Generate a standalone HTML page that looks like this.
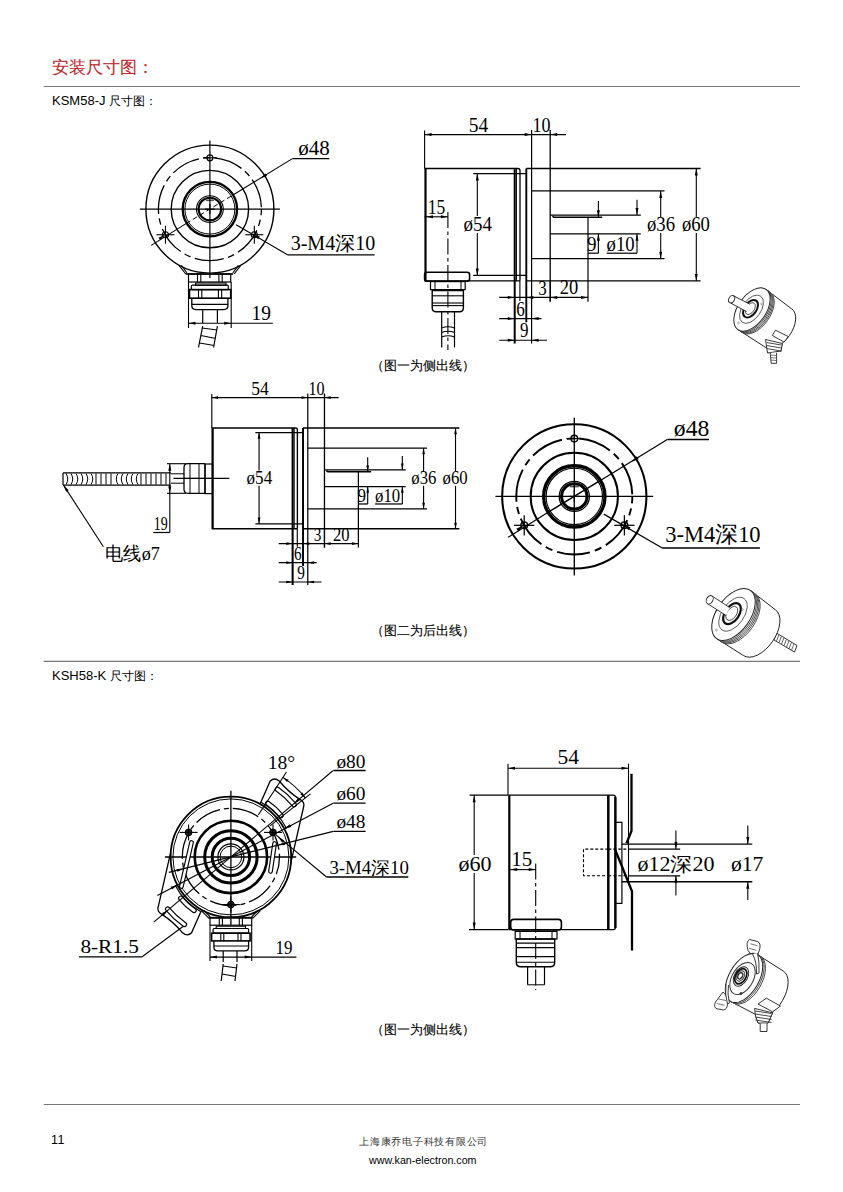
<!DOCTYPE html>
<html><head><meta charset="utf-8">
<style>
html,body{margin:0;padding:0;background:#fff;}
body{width:843px;height:1192px;position:relative;overflow:hidden;}
.t{position:absolute;white-space:nowrap;line-height:1;}
.sans{font-family:"Liberation Sans",sans-serif;}
.serif{font-family:"Liberation Serif",serif;}
svg{position:absolute;left:0;top:0;}
</style></head><body>
<div class="t serif" style="left:52px;top:58.5px;font-size:17px;color:#c0272d;-webkit-text-stroke:0.1px #c0272d;">安装尺寸图：</div>
<div class="t sans" style="left:52px;top:94px;font-size:13px;color:#000;">KSM58-J <span style="font-size:11.8px">尺寸图：</span></div>
<div class="t sans" style="left:371px;top:359px;font-size:13px;color:#000;-webkit-text-stroke:0.12px #000;">（图一为侧出线）</div>
<div class="t sans" style="left:371px;top:624px;font-size:13px;color:#000;-webkit-text-stroke:0.12px #000;">（图二为后出线）</div>
<div class="t sans" style="left:52px;top:669px;font-size:13px;color:#000;">KSH58-K <span style="font-size:11.8px">尺寸图：</span></div>
<div class="t sans" style="left:371px;top:1023px;font-size:13px;color:#000;-webkit-text-stroke:0.12px #000;">（图一为侧出线）</div>
<div class="t sans" style="left:51px;top:1134px;font-size:12.5px;color:#000;letter-spacing:0.5px;">11</div>
<div class="t serif" style="left:359px;top:1136.5px;font-size:10.45px;color:#333;letter-spacing:0.75px;">上海康乔电子科技有限公司</div>
<div class="t sans" style="left:369px;top:1155px;font-size:10.7px;color:#000;">www.kan-electron.com</div>
<svg width="843" height="1192" viewBox="0 0 843 1192">
<g stroke="#777" stroke-width="1.2">
<line x1="43.7" y1="86.5" x2="800" y2="86.5"/>
<line x1="43.7" y1="661.3" x2="800" y2="661.3"/>
<line x1="43.7" y1="1104.5" x2="800" y2="1104.5"/>
</g>
<circle cx="209.90" cy="209.10" r="64.00" stroke="#000" stroke-width="1.40" fill="none"/>
<circle cx="209.90" cy="209.10" r="51.50" stroke="#000" stroke-width="1.3" fill="none" stroke-dasharray="29.5 4.5 6.5 4.5" stroke-dashoffset="23.3"/>
<circle cx="209.90" cy="209.10" r="38.70" stroke="#000" stroke-width="1.40" fill="none"/>
<circle cx="209.90" cy="209.10" r="27.20" stroke="#000" stroke-width="2.30" fill="none"/>
<circle cx="209.90" cy="209.10" r="25.00" stroke="#000" stroke-width="1.00" fill="none"/>
<circle cx="209.90" cy="209.10" r="13.40" stroke="#000" stroke-width="1.10" fill="none"/>
<circle cx="209.90" cy="209.10" r="11.30" stroke="#000" stroke-width="2.10" fill="none"/>
<line x1="205.90" y1="200.30" x2="213.90" y2="200.30" stroke="#555" stroke-width="1.60"/>
<line x1="204.90" y1="209.10" x2="214.90" y2="209.10" stroke="#000" stroke-width="1.10"/>
<line x1="209.90" y1="204.10" x2="209.90" y2="214.10" stroke="#000" stroke-width="1.10"/>
<line x1="139.90" y1="209.10" x2="279.90" y2="209.10" stroke="#000" stroke-width="1.20"/>
<circle cx="209.90" cy="157.80" r="3.00" stroke="#000" stroke-width="1.20" fill="none"/>
<line x1="202.90" y1="157.80" x2="216.90" y2="157.80" stroke="#000" stroke-width="1.10"/>
<circle cx="165.47" cy="234.75" r="3.00" stroke="#000" stroke-width="1.20" fill="none"/>
<line x1="156.47" y1="234.75" x2="174.47" y2="234.75" stroke="#000" stroke-width="1.10"/>
<line x1="165.47" y1="225.75" x2="165.47" y2="243.75" stroke="#000" stroke-width="1.10"/>
<circle cx="254.33" cy="234.75" r="3.00" stroke="#000" stroke-width="1.20" fill="none"/>
<line x1="245.33" y1="234.75" x2="263.33" y2="234.75" stroke="#000" stroke-width="1.10"/>
<line x1="254.33" y1="225.75" x2="254.33" y2="243.75" stroke="#000" stroke-width="1.10"/>
<line x1="151.20" y1="245.40" x2="186.00" y2="223.60" stroke="#000" stroke-width="1.10"/>
<line x1="186.00" y1="223.60" x2="233.80" y2="194.50" stroke="#000" stroke-width="1.00" stroke-dasharray="5 3"/>
<line x1="233.80" y1="194.50" x2="292.40" y2="158.60" stroke="#000" stroke-width="1.10"/>
<line x1="292.40" y1="158.60" x2="329.40" y2="158.60" stroke="#000" stroke-width="1.40"/>
<polygon points="164.90,234.70 160.31,240.19 158.46,237.83" fill="#000"/>
<polygon points="260.30,178.50 265.46,173.54 267.04,176.09" fill="#000"/>
<text x="298.20" y="155.20" font-family="Liberation Serif" font-size="20" fill="#000" textLength="31.5" lengthAdjust="spacingAndGlyphs" >ø48</text>
<line x1="236.10" y1="224.80" x2="287.90" y2="254.90" stroke="#000" stroke-width="1.10"/>
<line x1="287.90" y1="254.90" x2="374.60" y2="254.90" stroke="#000" stroke-width="1.40"/>
<polygon points="253.00,234.30 259.79,236.57 258.27,239.15" fill="#000"/>
<text x="290.70" y="249.90" font-family="Liberation Serif" font-size="20" fill="#000" textLength="84.5" lengthAdjust="spacingAndGlyphs" >3-M4深10</text>
<line x1="209.90" y1="140.50" x2="209.90" y2="278.00" stroke="#000" stroke-width="1.20"/>
<path d="M179,265.4 L185.7,274 M181.4,265.4 L187,273 M240.8,265.4 L234.1,274 M238.4,265.4 L232.8,273" stroke="#000" stroke-width="1.10" fill="none" />
<line x1="185.70" y1="274.00" x2="233.10" y2="274.00" stroke="#333" stroke-width="2.00"/>
<rect x="188.50" y="274.00" width="42.20" height="8.00" rx="0" stroke="#000" stroke-width="1.20" fill="none"/>
<line x1="197.50" y1="274.00" x2="197.50" y2="282.00" stroke="#000" stroke-width="1.10"/>
<line x1="200.80" y1="274.00" x2="200.80" y2="282.00" stroke="#000" stroke-width="1.10"/>
<line x1="218.90" y1="274.00" x2="218.90" y2="282.00" stroke="#000" stroke-width="1.10"/>
<line x1="222.20" y1="274.00" x2="222.20" y2="282.00" stroke="#000" stroke-width="1.10"/>
<line x1="188.50" y1="282.00" x2="188.50" y2="328.00" stroke="#000" stroke-width="1.10"/>
<line x1="231.20" y1="282.00" x2="231.20" y2="328.00" stroke="#000" stroke-width="1.10"/>
<rect x="195.60" y="283.00" width="30.40" height="2.20" rx="0" stroke="#000" stroke-width="1.10" fill="none"/>
<rect x="191.30" y="285.20" width="37.00" height="4.40" rx="1" stroke="#000" stroke-width="1.20" fill="none"/>
<rect x="189.50" y="289.60" width="41.20" height="8.60" rx="0" stroke="#000" stroke-width="1.60" fill="none"/>
<line x1="198.50" y1="289.60" x2="198.50" y2="298.20" stroke="#000" stroke-width="1.10"/>
<line x1="201.80" y1="289.60" x2="201.80" y2="298.20" stroke="#000" stroke-width="1.10"/>
<line x1="218.40" y1="289.60" x2="218.40" y2="298.20" stroke="#000" stroke-width="1.10"/>
<line x1="221.70" y1="289.60" x2="221.70" y2="298.20" stroke="#000" stroke-width="1.10"/>
<path d="M191.8,298.2 L191.8,305.6 Q191.8,309.6 195.8,309.6 L223.9,309.6 Q227.9,309.6 227.9,305.6 L227.9,298.2" stroke="#000" stroke-width="1.30" fill="none" />
<line x1="191.80" y1="304.30" x2="227.90" y2="304.30" stroke="#000" stroke-width="1.20"/>
<line x1="202.70" y1="309.60" x2="202.70" y2="323.30" stroke="#000" stroke-width="1.20"/>
<line x1="217.40" y1="309.60" x2="217.40" y2="323.30" stroke="#000" stroke-width="1.20"/>
<path d="M202.7,326.2 L198.5,347.5 M217.4,326.2 L213.6,347.5 M202.3,328 L217,330 M201,335.5 L215.8,338.5 M199.6,343 L214.3,345.5" stroke="#000" stroke-width="1.20" fill="none" />
<line x1="188.00" y1="323.30" x2="272.80" y2="323.30" stroke="#000" stroke-width="1.10"/>
<polygon points="188.50,323.30 195.50,321.80 195.50,324.80" fill="#000"/>
<polygon points="231.20,323.30 224.20,324.80 224.20,321.80" fill="#000"/>
<text x="251.40" y="320.00" font-family="Liberation Serif" font-size="20" fill="#000" textLength="19.5" lengthAdjust="spacingAndGlyphs" >19</text>
<g transform="translate(574.3,496.4) scale(1.127) translate(-209.9,-209.1)">
<circle cx="209.90" cy="209.10" r="64.00" stroke="#000" stroke-width="1.82" fill="none"/>
<circle cx="209.90" cy="209.10" r="51.50" stroke="#000" stroke-width="1.6900000000000002" fill="none" stroke-dasharray="29.5 4.5 6.5 4.5" stroke-dashoffset="23.3"/>
<circle cx="209.90" cy="209.10" r="38.70" stroke="#000" stroke-width="1.82" fill="none"/>
<circle cx="209.90" cy="209.10" r="27.20" stroke="#000" stroke-width="2.99" fill="none"/>
<circle cx="209.90" cy="209.10" r="25.00" stroke="#000" stroke-width="1.00" fill="none"/>
<circle cx="209.90" cy="209.10" r="13.40" stroke="#000" stroke-width="1.10" fill="none"/>
<circle cx="209.90" cy="209.10" r="11.30" stroke="#000" stroke-width="2.73" fill="none"/>
<line x1="205.90" y1="200.30" x2="213.90" y2="200.30" stroke="#555" stroke-width="1.60"/>
<line x1="204.90" y1="209.10" x2="214.90" y2="209.10" stroke="#000" stroke-width="1.10"/>
<line x1="209.90" y1="204.10" x2="209.90" y2="214.10" stroke="#000" stroke-width="1.10"/>
<line x1="139.90" y1="209.10" x2="279.90" y2="209.10" stroke="#000" stroke-width="1.20"/>
<circle cx="209.90" cy="157.80" r="3.00" stroke="#000" stroke-width="1.20" fill="none"/>
<line x1="202.90" y1="157.80" x2="216.90" y2="157.80" stroke="#000" stroke-width="1.10"/>
<circle cx="165.47" cy="234.75" r="3.00" stroke="#000" stroke-width="1.20" fill="none"/>
<line x1="156.47" y1="234.75" x2="174.47" y2="234.75" stroke="#000" stroke-width="1.10"/>
<line x1="165.47" y1="225.75" x2="165.47" y2="243.75" stroke="#000" stroke-width="1.10"/>
<circle cx="254.33" cy="234.75" r="3.00" stroke="#000" stroke-width="1.20" fill="none"/>
<line x1="245.33" y1="234.75" x2="263.33" y2="234.75" stroke="#000" stroke-width="1.10"/>
<line x1="254.33" y1="225.75" x2="254.33" y2="243.75" stroke="#000" stroke-width="1.10"/>
<line x1="151.20" y1="245.40" x2="186.00" y2="223.60" stroke="#000" stroke-width="1.10"/>
<line x1="186.00" y1="223.60" x2="233.80" y2="194.50" stroke="#000" stroke-width="1.30"/>
<line x1="233.80" y1="194.50" x2="292.40" y2="158.60" stroke="#000" stroke-width="1.10"/>
<line x1="292.40" y1="158.60" x2="329.40" y2="158.60" stroke="#000" stroke-width="1.40"/>
<polygon points="164.90,234.70 160.31,240.19 158.46,237.83" fill="#000"/>
<polygon points="260.30,178.50 265.46,173.54 267.04,176.09" fill="#000"/>
<text x="298.20" y="155.20" font-family="Liberation Serif" font-size="20" fill="#000" textLength="31.5" lengthAdjust="spacingAndGlyphs" >ø48</text>
<line x1="236.10" y1="224.80" x2="287.90" y2="254.90" stroke="#000" stroke-width="1.10"/>
<line x1="287.90" y1="254.90" x2="374.60" y2="254.90" stroke="#000" stroke-width="1.40"/>
<polygon points="253.00,234.30 259.79,236.57 258.27,239.15" fill="#000"/>
<text x="290.70" y="249.90" font-family="Liberation Serif" font-size="20" fill="#000" textLength="84.5" lengthAdjust="spacingAndGlyphs" >3-M4深10</text>
<line x1="209.90" y1="139.30" x2="209.90" y2="279.20" stroke="#000" stroke-width="1.20"/>
</g>
<path d="M424.6,168.5 L518,168.5 Q520,168.5 520,170.5 L520,280.8 M424.6,280.8 L520,280.8" stroke="#000" stroke-width="1.30" fill="none" />
<line x1="514.70" y1="168.50" x2="514.70" y2="343.50" stroke="#000" stroke-width="2.00"/>
<line x1="516.40" y1="168.50" x2="516.40" y2="281.00" stroke="#000" stroke-width="1.10"/>
<line x1="526.30" y1="168.50" x2="526.30" y2="322.30" stroke="#000" stroke-width="1.90"/>
<line x1="531.60" y1="130.00" x2="531.60" y2="343.50" stroke="#000" stroke-width="1.20"/>
<line x1="526.30" y1="168.50" x2="700.60" y2="168.50" stroke="#000" stroke-width="1.30"/>
<line x1="526.30" y1="280.80" x2="700.60" y2="280.80" stroke="#000" stroke-width="1.30"/>
<line x1="473.20" y1="173.60" x2="526.30" y2="173.60" stroke="#000" stroke-width="1.20"/>
<line x1="473.20" y1="275.40" x2="526.30" y2="275.40" stroke="#000" stroke-width="1.20"/>
<line x1="477.30" y1="173.60" x2="477.30" y2="216.00" stroke="#000" stroke-width="1.10"/>
<line x1="477.30" y1="233.00" x2="477.30" y2="275.40" stroke="#000" stroke-width="1.10"/>
<polygon points="477.30,173.60 478.80,180.60 475.80,180.60" fill="#000"/>
<polygon points="477.30,275.40 475.80,268.40 478.80,268.40" fill="#000"/>
<text x="463.40" y="231.00" font-family="Liberation Serif" font-size="20" fill="#000" textLength="28.5" lengthAdjust="spacingAndGlyphs" >ø54</text>
<line x1="531.60" y1="190.90" x2="664.50" y2="190.90" stroke="#000" stroke-width="1.30"/>
<line x1="531.60" y1="258.70" x2="664.50" y2="258.70" stroke="#000" stroke-width="1.30"/>
<line x1="550.20" y1="130.00" x2="550.20" y2="301.80" stroke="#000" stroke-width="1.30"/>
<line x1="550.20" y1="215.10" x2="640.80" y2="215.10" stroke="#000" stroke-width="1.20"/>
<line x1="550.20" y1="233.80" x2="640.80" y2="233.80" stroke="#000" stroke-width="1.30"/>
<path d="M552.4,216.2 L554,217.3 L602.2,217.3" stroke="#000" stroke-width="1.60" fill="none" />
<line x1="588.00" y1="217.30" x2="588.00" y2="301.80" stroke="#000" stroke-width="1.20"/>
<line x1="696.30" y1="168.50" x2="696.30" y2="217.00" stroke="#000" stroke-width="1.10"/>
<line x1="696.30" y1="233.00" x2="696.30" y2="281.00" stroke="#000" stroke-width="1.10"/>
<polygon points="696.30,168.50 697.80,175.50 694.80,175.50" fill="#000"/>
<polygon points="696.30,281.00 694.80,274.00 697.80,274.00" fill="#000"/>
<text x="681.90" y="230.80" font-family="Liberation Serif" font-size="20" fill="#000" textLength="28.0" lengthAdjust="spacingAndGlyphs" >ø60</text>
<line x1="660.70" y1="190.90" x2="660.70" y2="217.00" stroke="#000" stroke-width="1.10"/>
<line x1="660.70" y1="233.00" x2="660.70" y2="258.70" stroke="#000" stroke-width="1.10"/>
<polygon points="660.70,190.90 662.20,197.90 659.20,197.90" fill="#000"/>
<polygon points="660.70,258.70 659.20,251.70 662.20,251.70" fill="#000"/>
<text x="647.00" y="230.80" font-family="Liberation Serif" font-size="20" fill="#000" textLength="28.0" lengthAdjust="spacingAndGlyphs" >ø36</text>
<line x1="637.00" y1="199.70" x2="637.00" y2="215.10" stroke="#000" stroke-width="1.10"/>
<polygon points="637.00,215.10 635.50,208.10 638.50,208.10" fill="#000"/>
<line x1="637.00" y1="233.80" x2="637.00" y2="253.20" stroke="#000" stroke-width="1.10"/>
<polygon points="637.00,233.80 638.50,240.80 635.50,240.80" fill="#000"/>
<line x1="606.70" y1="253.20" x2="637.00" y2="253.20" stroke="#000" stroke-width="1.20"/>
<text x="606.60" y="250.80" font-family="Liberation Serif" font-size="20" fill="#000" textLength="28.0" lengthAdjust="spacingAndGlyphs" >ø10</text>
<line x1="598.40" y1="201.00" x2="598.40" y2="217.30" stroke="#000" stroke-width="1.10"/>
<polygon points="598.40,217.30 596.90,210.30 599.90,210.30" fill="#000"/>
<line x1="598.40" y1="233.80" x2="598.40" y2="253.20" stroke="#000" stroke-width="1.10"/>
<polygon points="598.40,233.80 599.90,240.80 596.90,240.80" fill="#000"/>
<line x1="588.00" y1="253.20" x2="598.40" y2="253.20" stroke="#000" stroke-width="1.20"/>
<text x="587.00" y="250.80" font-family="Liberation Serif" font-size="20" fill="#000" textLength="9.5" lengthAdjust="spacingAndGlyphs" >9</text>
<line x1="424.60" y1="130.50" x2="424.60" y2="168.50" stroke="#000" stroke-width="1.10"/>
<line x1="424.60" y1="134.60" x2="566.00" y2="134.60" stroke="#000" stroke-width="1.10"/>
<polygon points="424.60,134.60 431.60,133.10 431.60,136.10" fill="#000"/>
<polygon points="531.60,134.60 524.60,136.10 524.60,133.10" fill="#000"/>
<polygon points="550.20,134.60 557.20,133.10 557.20,136.10" fill="#000"/>
<text x="468.70" y="131.70" font-family="Liberation Serif" font-size="20" fill="#000" textLength="19.5" lengthAdjust="spacingAndGlyphs" >54</text>
<text x="532.40" y="132.00" font-family="Liberation Serif" font-size="20" fill="#000" textLength="18.0" lengthAdjust="spacingAndGlyphs" >10</text>
<line x1="519.90" y1="281.00" x2="519.90" y2="301.00" stroke="#000" stroke-width="1.10"/>
<line x1="550.20" y1="281.00" x2="550.20" y2="301.60" stroke="#000" stroke-width="1.10"/>
<line x1="499.20" y1="297.40" x2="588.00" y2="297.40" stroke="#000" stroke-width="1.10"/>
<polygon points="514.70,297.40 507.70,298.90 507.70,295.90" fill="#000"/>
<polygon points="526.30,297.40 533.30,295.90 533.30,298.90" fill="#000"/>
<polygon points="550.20,297.40 557.20,295.90 557.20,298.90" fill="#000"/>
<polygon points="588.00,297.40 581.00,298.90 581.00,295.90" fill="#000"/>
<text x="538.20" y="294.90" font-family="Liberation Serif" font-size="20" fill="#000" textLength="8.5" lengthAdjust="spacingAndGlyphs" >3</text>
<text x="559.80" y="294.40" font-family="Liberation Serif" font-size="20" fill="#000" textLength="18.5" lengthAdjust="spacingAndGlyphs" >20</text>
<line x1="499.20" y1="318.60" x2="541.50" y2="318.60" stroke="#000" stroke-width="1.10"/>
<polygon points="514.70,318.60 507.70,320.10 507.70,317.10" fill="#000"/>
<polygon points="531.60,318.60 538.60,317.10 538.60,320.10" fill="#000"/>
<text x="516.20" y="315.70" font-family="Liberation Serif" font-size="20" fill="#000" textLength="8.5" lengthAdjust="spacingAndGlyphs" >6</text>
<line x1="499.20" y1="340.20" x2="546.90" y2="340.20" stroke="#000" stroke-width="1.10"/>
<polygon points="514.70,340.20 507.70,341.70 507.70,338.70" fill="#000"/>
<polygon points="531.60,340.20 538.60,338.70 538.60,341.70" fill="#000"/>
<text x="519.90" y="336.90" font-family="Liberation Serif" font-size="20" fill="#000" textLength="8.5" lengthAdjust="spacingAndGlyphs" >9</text>
<line x1="425.50" y1="168.50" x2="425.50" y2="281.00" stroke="#000" stroke-width="2.20"/>
<line x1="424.60" y1="216.80" x2="447.90" y2="216.80" stroke="#000" stroke-width="1.10"/>
<polygon points="426.00,216.80 433.00,215.30 433.00,218.30" fill="#000"/>
<polygon points="447.90,216.80 440.90,218.30 440.90,215.30" fill="#000"/>
<text x="427.80" y="213.60" font-family="Liberation Serif" font-size="20" fill="#000" textLength="17.5" lengthAdjust="spacingAndGlyphs" >15</text>
<line x1="447.90" y1="212.00" x2="447.90" y2="350.00" stroke="#000" stroke-width="1.10" stroke-dasharray="16 3.5 3.5 3.5"/>
<rect x="424.60" y="272.30" width="45.00" height="9.00" rx="2.5" stroke="#000" stroke-width="1.60" fill="none"/>
<rect x="430.50" y="281.60" width="34.70" height="8.00" rx="0" stroke="#000" stroke-width="1.20" fill="none"/>
<line x1="435.00" y1="281.60" x2="435.00" y2="289.60" stroke="#000" stroke-width="1.00"/>
<line x1="461.00" y1="281.60" x2="461.00" y2="289.60" stroke="#000" stroke-width="1.00"/>
<path d="M432.2,290.5 L432.2,307.8 Q432.2,311.8 436.2,311.8 L459.4,311.8 Q463.4,311.8 463.4,307.8 L463.4,290.5 Z" stroke="#000" stroke-width="1.40" fill="none" />
<line x1="432.20" y1="295.80" x2="463.40" y2="295.80" stroke="#000" stroke-width="1.10"/>
<line x1="432.20" y1="303.00" x2="463.40" y2="303.00" stroke="#000" stroke-width="1.10"/>
<line x1="432.20" y1="305.60" x2="463.40" y2="305.60" stroke="#000" stroke-width="1.10"/>
<line x1="441.70" y1="311.80" x2="441.70" y2="347.40" stroke="#000" stroke-width="1.20"/>
<line x1="454.50" y1="311.80" x2="454.50" y2="347.40" stroke="#000" stroke-width="1.20"/>
<path d="M441.7,328 Q448,325.5 454.5,328 M441.7,332.5 Q448,330 454.5,332.5 M441.7,337 Q448,334.5 454.5,337" stroke="#000" stroke-width="1.10" fill="none" />
<g transform="translate(211.8,428) scale(0.897) translate(-424.6,-168.5)">
<path d="M424.6,168.5 L518,168.5 Q520,168.5 520,170.5 L520,280.8 M424.6,280.8 L520,280.8" stroke="#000" stroke-width="1.49" fill="none" />
<line x1="514.70" y1="168.50" x2="514.70" y2="343.50" stroke="#000" stroke-width="2.30"/>
<line x1="516.40" y1="168.50" x2="516.40" y2="281.00" stroke="#000" stroke-width="1.26"/>
<line x1="526.30" y1="168.50" x2="526.30" y2="322.30" stroke="#000" stroke-width="2.18"/>
<line x1="531.60" y1="130.00" x2="531.60" y2="343.50" stroke="#000" stroke-width="1.38"/>
<line x1="526.30" y1="168.50" x2="700.60" y2="168.50" stroke="#000" stroke-width="1.49"/>
<line x1="526.30" y1="280.80" x2="700.60" y2="280.80" stroke="#000" stroke-width="1.49"/>
<line x1="473.20" y1="173.60" x2="526.30" y2="173.60" stroke="#000" stroke-width="1.38"/>
<line x1="473.20" y1="275.40" x2="526.30" y2="275.40" stroke="#000" stroke-width="1.38"/>
<line x1="477.30" y1="173.60" x2="477.30" y2="216.00" stroke="#000" stroke-width="1.26"/>
<line x1="477.30" y1="233.00" x2="477.30" y2="275.40" stroke="#000" stroke-width="1.26"/>
<polygon points="477.30,173.60 478.80,180.60 475.80,180.60" fill="#000"/>
<polygon points="477.30,275.40 475.80,268.40 478.80,268.40" fill="#000"/>
<text x="463.40" y="231.00" font-family="Liberation Serif" font-size="20" fill="#000" textLength="28.5" lengthAdjust="spacingAndGlyphs" >ø54</text>
<line x1="531.60" y1="190.90" x2="664.50" y2="190.90" stroke="#000" stroke-width="1.49"/>
<line x1="531.60" y1="258.70" x2="664.50" y2="258.70" stroke="#000" stroke-width="1.49"/>
<line x1="550.20" y1="130.00" x2="550.20" y2="301.80" stroke="#000" stroke-width="1.49"/>
<line x1="550.20" y1="215.10" x2="640.80" y2="215.10" stroke="#000" stroke-width="1.38"/>
<line x1="550.20" y1="233.80" x2="640.80" y2="233.80" stroke="#000" stroke-width="1.49"/>
<path d="M552.4,216.2 L554,217.3 L602.2,217.3" stroke="#000" stroke-width="1.84" fill="none" />
<line x1="588.00" y1="217.30" x2="588.00" y2="301.80" stroke="#000" stroke-width="1.38"/>
<line x1="696.30" y1="168.50" x2="696.30" y2="217.00" stroke="#000" stroke-width="1.26"/>
<line x1="696.30" y1="233.00" x2="696.30" y2="281.00" stroke="#000" stroke-width="1.26"/>
<polygon points="696.30,168.50 697.80,175.50 694.80,175.50" fill="#000"/>
<polygon points="696.30,281.00 694.80,274.00 697.80,274.00" fill="#000"/>
<text x="681.90" y="230.80" font-family="Liberation Serif" font-size="20" fill="#000" textLength="28.0" lengthAdjust="spacingAndGlyphs" >ø60</text>
<line x1="660.70" y1="190.90" x2="660.70" y2="217.00" stroke="#000" stroke-width="1.26"/>
<line x1="660.70" y1="233.00" x2="660.70" y2="258.70" stroke="#000" stroke-width="1.26"/>
<polygon points="660.70,190.90 662.20,197.90 659.20,197.90" fill="#000"/>
<polygon points="660.70,258.70 659.20,251.70 662.20,251.70" fill="#000"/>
<text x="647.00" y="230.80" font-family="Liberation Serif" font-size="20" fill="#000" textLength="28.0" lengthAdjust="spacingAndGlyphs" >ø36</text>
<line x1="637.00" y1="199.70" x2="637.00" y2="215.10" stroke="#000" stroke-width="1.26"/>
<polygon points="637.00,215.10 635.50,208.10 638.50,208.10" fill="#000"/>
<line x1="637.00" y1="233.80" x2="637.00" y2="253.20" stroke="#000" stroke-width="1.26"/>
<polygon points="637.00,233.80 638.50,240.80 635.50,240.80" fill="#000"/>
<line x1="606.70" y1="253.20" x2="637.00" y2="253.20" stroke="#000" stroke-width="1.38"/>
<text x="606.60" y="250.80" font-family="Liberation Serif" font-size="20" fill="#000" textLength="28.0" lengthAdjust="spacingAndGlyphs" >ø10</text>
<line x1="598.40" y1="201.00" x2="598.40" y2="217.30" stroke="#000" stroke-width="1.26"/>
<polygon points="598.40,217.30 596.90,210.30 599.90,210.30" fill="#000"/>
<line x1="598.40" y1="233.80" x2="598.40" y2="253.20" stroke="#000" stroke-width="1.26"/>
<polygon points="598.40,233.80 599.90,240.80 596.90,240.80" fill="#000"/>
<line x1="588.00" y1="253.20" x2="598.40" y2="253.20" stroke="#000" stroke-width="1.38"/>
<text x="587.00" y="250.80" font-family="Liberation Serif" font-size="20" fill="#000" textLength="9.5" lengthAdjust="spacingAndGlyphs" >9</text>
<line x1="424.60" y1="130.50" x2="424.60" y2="168.50" stroke="#000" stroke-width="1.26"/>
<line x1="424.60" y1="134.60" x2="566.00" y2="134.60" stroke="#000" stroke-width="1.26"/>
<polygon points="424.60,134.60 431.60,133.10 431.60,136.10" fill="#000"/>
<polygon points="531.60,134.60 524.60,136.10 524.60,133.10" fill="#000"/>
<polygon points="550.20,134.60 557.20,133.10 557.20,136.10" fill="#000"/>
<text x="468.70" y="131.70" font-family="Liberation Serif" font-size="20" fill="#000" textLength="19.5" lengthAdjust="spacingAndGlyphs" >54</text>
<text x="532.40" y="132.00" font-family="Liberation Serif" font-size="20" fill="#000" textLength="18.0" lengthAdjust="spacingAndGlyphs" >10</text>
<line x1="519.90" y1="281.00" x2="519.90" y2="301.00" stroke="#000" stroke-width="1.26"/>
<line x1="550.20" y1="281.00" x2="550.20" y2="301.60" stroke="#000" stroke-width="1.26"/>
<line x1="499.20" y1="297.40" x2="588.00" y2="297.40" stroke="#000" stroke-width="1.26"/>
<polygon points="514.70,297.40 507.70,298.90 507.70,295.90" fill="#000"/>
<polygon points="526.30,297.40 533.30,295.90 533.30,298.90" fill="#000"/>
<polygon points="550.20,297.40 557.20,295.90 557.20,298.90" fill="#000"/>
<polygon points="588.00,297.40 581.00,298.90 581.00,295.90" fill="#000"/>
<text x="538.20" y="294.90" font-family="Liberation Serif" font-size="20" fill="#000" textLength="8.5" lengthAdjust="spacingAndGlyphs" >3</text>
<text x="559.80" y="294.40" font-family="Liberation Serif" font-size="20" fill="#000" textLength="18.5" lengthAdjust="spacingAndGlyphs" >20</text>
<line x1="499.20" y1="318.60" x2="541.50" y2="318.60" stroke="#000" stroke-width="1.26"/>
<polygon points="514.70,318.60 507.70,320.10 507.70,317.10" fill="#000"/>
<polygon points="531.60,318.60 538.60,317.10 538.60,320.10" fill="#000"/>
<text x="516.20" y="315.70" font-family="Liberation Serif" font-size="20" fill="#000" textLength="8.5" lengthAdjust="spacingAndGlyphs" >6</text>
<line x1="499.20" y1="340.20" x2="546.90" y2="340.20" stroke="#000" stroke-width="1.26"/>
<polygon points="514.70,340.20 507.70,341.70 507.70,338.70" fill="#000"/>
<polygon points="531.60,340.20 538.60,338.70 538.60,341.70" fill="#000"/>
<text x="519.90" y="336.90" font-family="Liberation Serif" font-size="20" fill="#000" textLength="8.5" lengthAdjust="spacingAndGlyphs" >9</text>
<line x1="425.50" y1="168.50" x2="425.50" y2="281.00" stroke="#000" stroke-width="2.53"/>
</g>
<line x1="63.00" y1="472.80" x2="170.80" y2="472.80" stroke="#000" stroke-width="1.20"/>
<line x1="63.00" y1="485.10" x2="170.80" y2="485.10" stroke="#000" stroke-width="1.20"/>
<path d="M66,473.5 Q69.5,479 66,484.5 M71,473.5 Q74.5,479 71,484.5 M76,473.5 Q79.5,479 76,484.5 M81,473.5 Q84.5,479 81,484.5 M86,473.5 Q89.5,479 86,484.5 M91,473.5 Q94.5,479 91,484.5 M96,473.5 L96,484.5 M101,473.5 L101,484.5 M106,473.5 L106,484.5 M111,473.5 L111,484.5 M118,473.5 Q114.5,479 118,484.5 M123,473.5 Q119.5,479 123,484.5 M128,473.5 Q124.5,479 128,484.5 M133,473.5 Q129.5,479 133,484.5 M138,473.5 Q134.5,479 138,484.5 M141,473.5 L141,484.5 M146,473.5 L146,484.5 M151,473.5 L151,484.5 M156,473.5 L156,484.5 M161,473.5 L161,484.5 M166,473.5 L166,484.5" stroke="#000" stroke-width="1.00" fill="none" />
<line x1="63.00" y1="473.00" x2="63.00" y2="485.00" stroke="#000" stroke-width="1.20"/>
<path d="M205,463.7 L188,463.7 Q184,463.7 184,467.7 L184,489.3 Q184,493.3 188,493.3 L205,493.3" stroke="#000" stroke-width="1.30" fill="none" />
<line x1="205.00" y1="463.70" x2="205.00" y2="493.30" stroke="#000" stroke-width="1.30"/>
<rect x="205.00" y="464.00" width="7.50" height="29.60" rx="0" stroke="#000" stroke-width="1.20" fill="none"/>
<line x1="190.00" y1="463.70" x2="190.00" y2="493.30" stroke="#000" stroke-width="1.00"/>
<line x1="199.00" y1="463.70" x2="199.00" y2="493.30" stroke="#000" stroke-width="1.00"/>
<line x1="184.00" y1="478.40" x2="212.00" y2="478.40" stroke="#000" stroke-width="1.00"/>
<line x1="170.80" y1="473.80" x2="184.00" y2="473.80" stroke="#000" stroke-width="1.00"/>
<line x1="170.80" y1="483.20" x2="184.00" y2="483.20" stroke="#000" stroke-width="1.00"/>
<line x1="173.40" y1="478.40" x2="229.40" y2="478.40" stroke="#000" stroke-width="1.10"/>
<line x1="167.00" y1="463.70" x2="186.00" y2="463.70" stroke="#000" stroke-width="1.10"/>
<line x1="167.00" y1="493.30" x2="186.00" y2="493.30" stroke="#000" stroke-width="1.10"/>
<line x1="169.80" y1="463.70" x2="169.80" y2="532.50" stroke="#000" stroke-width="1.10"/>
<polygon points="169.80,463.70 171.30,470.70 168.30,470.70" fill="#000"/>
<polygon points="169.80,493.30 168.30,486.30 171.30,486.30" fill="#000"/>
<line x1="153.30" y1="532.50" x2="169.80" y2="532.50" stroke="#000" stroke-width="1.20"/>
<text x="153.70" y="529.70" font-family="Liberation Serif" font-size="18" fill="#000" textLength="14.0" lengthAdjust="spacingAndGlyphs" >19</text>
<line x1="63.50" y1="485.10" x2="103.40" y2="546.80" stroke="#000" stroke-width="1.10"/>
<polygon points="63.50,485.10 68.60,490.13 66.09,491.77" fill="#000"/>
<text x="105.30" y="560.00" font-family="Liberation Serif" font-size="19" fill="#000" textLength="54.5" lengthAdjust="spacingAndGlyphs" >电线ø7</text>
<path d="M174.81,834.24 L158.06,907.52 Q156.95,911.62 161.91,914.38 A90,90 0 0 1 182.54,932.81 Q187.48,936.87 191.55,932.81 L201.42,910.53" stroke="#000" stroke-width="1.30" fill="none" />
<path d="M167.63,909.06 A82.00,82.00 0 0 0 184.45,924.48" stroke="#000" stroke-width="5.40" fill="none" stroke-linecap="round"/>
<path d="M167.63,909.06 A82.00,82.00 0 0 0 184.45,924.48" stroke="#fff" stroke-width="3.10" fill="none" stroke-linecap="round"/>
<path d="M180.74,898.25 A65.00,65.00 0 0 0 194.08,910.47" stroke="#000" stroke-width="5.40" fill="none" stroke-linecap="round"/>
<path d="M180.74,898.25 A65.00,65.00 0 0 0 194.08,910.47" stroke="#fff" stroke-width="3.10" fill="none" stroke-linecap="round"/>
<path d="M175.21,885.27 A62.50,62.50 0 0 0 200.60,911.56" stroke="#000" stroke-width="1.20" fill="none" />
<path d="M286.99,879.56 L303.74,806.28 Q304.85,802.18 299.89,799.42 A90,90 0 0 1 279.26,780.99 Q274.32,776.93 270.25,780.99 L260.38,803.27" stroke="#000" stroke-width="1.30" fill="none" />
<path d="M294.17,804.74 A82.00,82.00 0 0 0 277.35,789.32" stroke="#000" stroke-width="5.40" fill="none" stroke-linecap="round"/>
<path d="M294.17,804.74 A82.00,82.00 0 0 0 277.35,789.32" stroke="#fff" stroke-width="3.10" fill="none" stroke-linecap="round"/>
<path d="M281.06,815.55 A65.00,65.00 0 0 0 267.72,803.33" stroke="#000" stroke-width="5.40" fill="none" stroke-linecap="round"/>
<path d="M281.06,815.55 A65.00,65.00 0 0 0 267.72,803.33" stroke="#fff" stroke-width="3.10" fill="none" stroke-linecap="round"/>
<path d="M286.59,828.53 A62.50,62.50 0 0 0 261.20,802.24" stroke="#000" stroke-width="1.20" fill="none" />
<circle cx="230.90" cy="856.90" r="60.30" stroke="#000" stroke-width="1.80" fill="#fff"/>
<circle cx="230.90" cy="856.90" r="58.00" stroke="#000" stroke-width="1.00" fill="none"/>
<circle cx="230.9" cy="856.9" r="48.6" stroke="#000" stroke-width="1.3" fill="none" stroke-dasharray="27 4 5 4" stroke-dashoffset="9.4"/>
<circle cx="230.90" cy="856.90" r="36.20" stroke="#000" stroke-width="2.60" fill="none"/>
<circle cx="230.90" cy="856.90" r="26.20" stroke="#000" stroke-width="3.00" fill="none"/>
<circle cx="230.90" cy="856.90" r="18.70" stroke="#000" stroke-width="3.00" fill="none"/>
<circle cx="230.90" cy="856.90" r="13.00" stroke="#000" stroke-width="1.20" fill="none"/>
<circle cx="230.90" cy="856.90" r="10.80" stroke="#000" stroke-width="1.00" fill="none"/>
<line x1="165.00" y1="856.90" x2="296.20" y2="856.90" stroke="#000" stroke-width="1.50"/>
<line x1="230.90" y1="790.80" x2="230.90" y2="925.00" stroke="#000" stroke-width="1.30"/>
<line x1="191.50" y1="842.50" x2="181.40" y2="886.50" stroke="#000" stroke-width="4.80" stroke-linecap="round"/>
<line x1="191.50" y1="842.50" x2="181.40" y2="886.50" stroke="#fff" stroke-width="2.50" stroke-linecap="round"/>
<line x1="274.60" y1="843.50" x2="270.50" y2="871.40" stroke="#000" stroke-width="4.80" stroke-linecap="round"/>
<line x1="274.60" y1="843.50" x2="270.50" y2="871.40" stroke="#fff" stroke-width="2.50" stroke-linecap="round"/>
<circle cx="188.60" cy="832.40" r="3.40" stroke="#000" stroke-width="1.00" fill="#222"/>
<line x1="179.60" y1="832.40" x2="197.60" y2="832.40" stroke="#000" stroke-width="1.10"/>
<line x1="188.60" y1="824.40" x2="188.60" y2="840.40" stroke="#000" stroke-width="1.10"/>
<circle cx="273.00" cy="832.40" r="3.40" stroke="#000" stroke-width="1.00" fill="#222"/>
<line x1="264.00" y1="832.40" x2="282.00" y2="832.40" stroke="#000" stroke-width="1.10"/>
<line x1="273.00" y1="824.40" x2="273.00" y2="840.40" stroke="#000" stroke-width="1.10"/>
<circle cx="230.90" cy="904.60" r="3.40" stroke="#000" stroke-width="1.00" fill="#222"/>
<line x1="221.90" y1="904.60" x2="239.90" y2="904.60" stroke="#000" stroke-width="1.10"/>
<line x1="230.90" y1="896.60" x2="230.90" y2="912.60" stroke="#000" stroke-width="1.10"/>
<line x1="230.90" y1="856.90" x2="332.87" y2="770.73" stroke="#000" stroke-width="1.10"/>
<line x1="230.90" y1="856.90" x2="153.76" y2="922.09" stroke="#000" stroke-width="1.10"/>
<polygon points="293.53,803.97 297.91,798.31 299.85,800.60" fill="#000"/>
<polygon points="168.27,909.83 163.89,915.49 161.95,913.20" fill="#000"/>
<line x1="333.30" y1="770.50" x2="365.60" y2="770.50" stroke="#000" stroke-width="1.30"/>
<text x="336.40" y="767.80" font-family="Liberation Serif" font-size="18" fill="#000" textLength="29.0" lengthAdjust="spacingAndGlyphs" >ø80</text>
<line x1="230.90" y1="856.90" x2="333.16" y2="803.21" stroke="#000" stroke-width="1.10"/>
<line x1="230.90" y1="856.90" x2="157.41" y2="895.48" stroke="#000" stroke-width="1.10"/>
<polygon points="284.29,828.87 289.79,824.29 291.18,826.94" fill="#000"/>
<polygon points="177.51,884.93 172.01,889.51 170.62,886.86" fill="#000"/>
<line x1="333.30" y1="803.20" x2="365.60" y2="803.20" stroke="#000" stroke-width="1.30"/>
<text x="336.40" y="800.10" font-family="Liberation Serif" font-size="18" fill="#000" textLength="29.0" lengthAdjust="spacingAndGlyphs" >ø60</text>
<line x1="230.90" y1="856.90" x2="333.27" y2="831.38" stroke="#000" stroke-width="1.10"/>
<line x1="230.90" y1="856.90" x2="168.80" y2="872.38" stroke="#000" stroke-width="1.10"/>
<polygon points="278.06,845.14 284.49,841.99 285.21,844.90" fill="#000"/>
<polygon points="183.74,868.66 177.31,871.81 176.59,868.90" fill="#000"/>
<line x1="333.30" y1="831.30" x2="365.60" y2="831.30" stroke="#000" stroke-width="1.30"/>
<text x="336.40" y="827.90" font-family="Liberation Serif" font-size="18" fill="#000" textLength="29.0" lengthAdjust="spacingAndGlyphs" >ø48</text>
<line x1="273.00" y1="832.40" x2="326.50" y2="877.00" stroke="#000" stroke-width="1.10"/>
<line x1="326.50" y1="877.00" x2="408.30" y2="877.00" stroke="#000" stroke-width="1.30"/>
<polygon points="278.00,837.00 284.26,840.48 282.28,842.74" fill="#000"/>
<text x="329.40" y="873.70" font-family="Liberation Serif" font-size="18" fill="#000" textLength="79.5" lengthAdjust="spacingAndGlyphs" >3-M4深10</text>
<line x1="258.28" y1="815.06" x2="286.48" y2="771.97" stroke="#000" stroke-width="1.10"/>
<line x1="270.08" y1="825.84" x2="310.44" y2="793.85" stroke="#000" stroke-width="1.10"/>
<path d="M282.92,777.41 A95.00,95.00 0 0 1 305.35,797.89" stroke="#000" stroke-width="1.10" fill="none" />
<polygon points="282.92,777.41 288.61,779.76 286.98,782.04" fill="#000"/>
<polygon points="305.35,797.89 300.38,794.26 302.50,792.43" fill="#000"/>
<text x="267.70" y="769.30" font-family="Liberation Serif" font-size="18" fill="#000" textLength="27.5" lengthAdjust="spacingAndGlyphs" >18°</text>
<line x1="79.00" y1="956.80" x2="142.10" y2="956.80" stroke="#000" stroke-width="1.30"/>
<line x1="142.10" y1="956.80" x2="183.00" y2="926.50" stroke="#000" stroke-width="1.10"/>
<text x="80.40" y="953.30" font-family="Liberation Serif" font-size="18" fill="#000" textLength="58.5" lengthAdjust="spacingAndGlyphs" >8-R1.5</text>
<path d="M201.6,910.8 L208.5,917.8 M203.8,910.3 L210.3,917 M260.2,910.8 L253.3,917.8 M258,910.3 L251.5,917" stroke="#000" stroke-width="1.10" fill="none" />
<line x1="208.00" y1="917.80" x2="253.50" y2="917.80" stroke="#333" stroke-width="2.00"/>
<rect x="210.00" y="917.80" width="41.70" height="7.40" rx="0" stroke="#000" stroke-width="1.20" fill="none"/>
<line x1="219.30" y1="917.80" x2="219.30" y2="925.20" stroke="#000" stroke-width="1.10"/>
<line x1="222.40" y1="917.80" x2="222.40" y2="925.20" stroke="#000" stroke-width="1.10"/>
<line x1="239.30" y1="917.80" x2="239.30" y2="925.20" stroke="#000" stroke-width="1.10"/>
<line x1="242.40" y1="917.80" x2="242.40" y2="925.20" stroke="#000" stroke-width="1.10"/>
<line x1="210.00" y1="925.20" x2="210.00" y2="961.00" stroke="#000" stroke-width="1.10"/>
<line x1="251.70" y1="925.20" x2="251.70" y2="961.00" stroke="#000" stroke-width="1.10"/>
<rect x="216.20" y="926.20" width="29.30" height="2.30" rx="0" stroke="#000" stroke-width="1.10" fill="none"/>
<rect x="213.10" y="928.50" width="35.50" height="4.70" rx="1" stroke="#000" stroke-width="1.20" fill="none"/>
<rect x="211.60" y="933.20" width="38.50" height="7.70" rx="0" stroke="#000" stroke-width="1.60" fill="none"/>
<line x1="220.80" y1="933.20" x2="220.80" y2="940.90" stroke="#000" stroke-width="1.10"/>
<line x1="223.80" y1="933.20" x2="223.80" y2="940.90" stroke="#000" stroke-width="1.10"/>
<line x1="238.00" y1="933.20" x2="238.00" y2="940.90" stroke="#000" stroke-width="1.10"/>
<line x1="241.00" y1="933.20" x2="241.00" y2="940.90" stroke="#000" stroke-width="1.10"/>
<path d="M213.9,940.9 L213.9,947 Q213.9,950.9 217.8,950.9 L244.7,950.9 Q248.6,950.9 248.6,947 L248.6,940.9" stroke="#000" stroke-width="1.30" fill="none" />
<line x1="213.90" y1="946.00" x2="248.60" y2="946.00" stroke="#000" stroke-width="1.10"/>
<line x1="223.20" y1="950.90" x2="223.20" y2="962.00" stroke="#000" stroke-width="1.20"/>
<line x1="237.00" y1="950.90" x2="237.00" y2="962.00" stroke="#000" stroke-width="1.20"/>
<path d="M223.2,964 L221.2,981 M237,964 L235,981 M223,966 L236.8,968 M222,974 L236,976.5" stroke="#000" stroke-width="1.20" fill="none" />
<line x1="210.00" y1="957.10" x2="296.40" y2="957.10" stroke="#000" stroke-width="1.10"/>
<polygon points="210.00,957.10 217.00,955.60 217.00,958.60" fill="#000"/>
<polygon points="251.70,957.10 244.70,958.60 244.70,955.60" fill="#000"/>
<text x="275.60" y="953.50" font-family="Liberation Serif" font-size="18" fill="#000" textLength="17.0" lengthAdjust="spacingAndGlyphs" >19</text>
<path d="M508.5,795.2 L613.5,795.2 Q615.4,795.2 615.4,797.5 L615.4,927 Q615.4,929.6 613.5,929.6 L508.5,929.6" stroke="#000" stroke-width="1.30" fill="none" />
<line x1="509.30" y1="795.20" x2="509.30" y2="929.60" stroke="#000" stroke-width="2.20"/>
<line x1="608.30" y1="795.20" x2="608.30" y2="929.60" stroke="#000" stroke-width="2.50"/>
<line x1="615.40" y1="797.00" x2="615.40" y2="928.00" stroke="#000" stroke-width="2.40"/>
<rect x="615.40" y="822.30" width="6.50" height="81.10" rx="0" stroke="#000" stroke-width="1.20" fill="none"/>
<path d="M608.3,849.1 L583.5,849.1 L583.5,875.8 L608.3,875.8" stroke="#000" stroke-width="1.10" fill="none" stroke-dasharray="3 2"/>
<line x1="608.30" y1="849.10" x2="628.50" y2="849.10" stroke="#000" stroke-width="1.10" stroke-dasharray="3 2"/>
<line x1="608.30" y1="875.80" x2="628.50" y2="875.80" stroke="#000" stroke-width="1.10" stroke-dasharray="3 2"/>
<line x1="621.90" y1="844.10" x2="752.30" y2="844.10" stroke="#000" stroke-width="1.40"/>
<line x1="621.90" y1="881.70" x2="752.30" y2="881.70" stroke="#000" stroke-width="1.40"/>
<line x1="628.50" y1="849.10" x2="680.20" y2="849.10" stroke="#000" stroke-width="1.30"/>
<line x1="628.50" y1="875.80" x2="680.20" y2="875.80" stroke="#000" stroke-width="1.30"/>
<line x1="628.50" y1="843.00" x2="628.50" y2="882.00" stroke="#000" stroke-width="1.10"/>
<path d="M631.5,773.8 L631.5,831 L626.5,843.3" stroke="#000" stroke-width="2.30" fill="none" />
<path d="M615.4,850.2 L632,891.2 L632,950.5" stroke="#000" stroke-width="2.30" fill="none" />
<line x1="508.00" y1="763.70" x2="508.00" y2="795.20" stroke="#000" stroke-width="1.10"/>
<line x1="628.50" y1="763.70" x2="628.50" y2="843.00" stroke="#000" stroke-width="1.10"/>
<line x1="508.00" y1="768.20" x2="628.50" y2="768.20" stroke="#000" stroke-width="1.10"/>
<polygon points="508.00,768.20 515.00,766.70 515.00,769.70" fill="#000"/>
<polygon points="628.50,768.20 621.50,769.70 621.50,766.70" fill="#000"/>
<text x="557.50" y="764.30" font-family="Liberation Serif" font-size="20" fill="#000" textLength="21.5" lengthAdjust="spacingAndGlyphs" >54</text>
<line x1="469.60" y1="795.20" x2="508.00" y2="795.20" stroke="#000" stroke-width="1.20"/>
<line x1="469.00" y1="929.60" x2="508.00" y2="929.60" stroke="#000" stroke-width="1.20"/>
<line x1="474.20" y1="795.20" x2="474.20" y2="855.00" stroke="#000" stroke-width="1.10"/>
<line x1="474.20" y1="873.00" x2="474.20" y2="929.60" stroke="#000" stroke-width="1.10"/>
<polygon points="474.20,795.20 475.70,802.20 472.70,802.20" fill="#000"/>
<polygon points="474.20,929.60 472.70,922.60 475.70,922.60" fill="#000"/>
<text x="458.40" y="870.70" font-family="Liberation Serif" font-size="20" fill="#000" textLength="33.0" lengthAdjust="spacingAndGlyphs" >ø60</text>
<line x1="510.20" y1="869.60" x2="535.70" y2="869.60" stroke="#000" stroke-width="1.10"/>
<polygon points="510.20,869.60 517.20,868.10 517.20,871.10" fill="#000"/>
<polygon points="535.70,869.60 528.70,871.10 528.70,868.10" fill="#000"/>
<text x="511.30" y="865.80" font-family="Liberation Serif" font-size="20" fill="#000" textLength="21.0" lengthAdjust="spacingAndGlyphs" >15</text>
<line x1="535.70" y1="863.50" x2="535.70" y2="990.00" stroke="#000" stroke-width="1.10" stroke-dasharray="16 3.5 3.5 3.5"/>
<line x1="675.90" y1="830.50" x2="675.90" y2="849.10" stroke="#000" stroke-width="1.10"/>
<polygon points="675.90,849.10 674.40,842.10 677.40,842.10" fill="#000"/>
<line x1="675.90" y1="875.80" x2="675.90" y2="895.50" stroke="#000" stroke-width="1.10"/>
<polygon points="675.90,875.80 677.40,882.80 674.40,882.80" fill="#000"/>
<text x="637.40" y="870.70" font-family="Liberation Serif" font-size="20" fill="#000" textLength="77.0" lengthAdjust="spacingAndGlyphs" >ø12深20</text>
<line x1="747.80" y1="825.60" x2="747.80" y2="844.10" stroke="#000" stroke-width="1.10"/>
<polygon points="747.80,844.10 746.30,837.10 749.30,837.10" fill="#000"/>
<line x1="747.80" y1="881.70" x2="747.80" y2="900.00" stroke="#000" stroke-width="1.10"/>
<polygon points="747.80,881.70 749.30,888.70 746.30,888.70" fill="#000"/>
<text x="730.90" y="870.70" font-family="Liberation Serif" font-size="20" fill="#000" textLength="32.5" lengthAdjust="spacingAndGlyphs" >ø17</text>
<rect x="510.70" y="919.40" width="50.70" height="10.60" rx="3" stroke="#000" stroke-width="1.60" fill="none"/>
<rect x="515.20" y="931.40" width="41.80" height="7.60" rx="0" stroke="#000" stroke-width="1.20" fill="none"/>
<line x1="520.00" y1="931.40" x2="520.00" y2="939.00" stroke="#000" stroke-width="1.00"/>
<line x1="552.00" y1="931.40" x2="552.00" y2="939.00" stroke="#000" stroke-width="1.00"/>
<path d="M516.3,939 L516.3,962.3 Q516.3,966.8 520.8,966.8 L550.2,966.8 Q554.7,966.8 554.7,962.3 L554.7,939 Z" stroke="#000" stroke-width="1.40" fill="none" />
<line x1="516.30" y1="943.10" x2="554.70" y2="943.10" stroke="#000" stroke-width="1.10"/>
<line x1="516.30" y1="947.60" x2="554.70" y2="947.60" stroke="#000" stroke-width="1.10"/>
<line x1="516.30" y1="956.60" x2="554.70" y2="956.60" stroke="#000" stroke-width="1.10"/>
<line x1="516.30" y1="962.30" x2="554.70" y2="962.30" stroke="#000" stroke-width="1.10"/>
<line x1="527.60" y1="966.80" x2="527.60" y2="984.80" stroke="#000" stroke-width="1.20"/>
<line x1="544.50" y1="966.80" x2="544.50" y2="984.80" stroke="#000" stroke-width="1.20"/>
<line x1="527.60" y1="984.80" x2="544.50" y2="984.80" stroke="#000" stroke-width="1.00"/>
<path d="M765.9,339.8 L781.9,344 L780.9,350.5 L768,352.6 Z" stroke="#222" stroke-width="0.90" fill="#fff" />
<path d="M766.05,289.43 L791.81,308.96 A13.30,23.27 35 0 1 765.11,347.09 L737.95,329.57 Z" stroke="#222" stroke-width="1.00" fill="#fff" />
<path d="M772.3,335.5 L775.5,330.2 L788.3,336.6 L784,342 Z" stroke="#222" stroke-width="0.90" fill="#fff" />
<path d="M765.5,339.5 L782.5,343.5 L781,351 L767.5,353 Z" stroke="#222" stroke-width="0.90" fill="#fff" />
<line x1="766.50" y1="342.50" x2="781.80" y2="345.10" stroke="#333" stroke-width="0.90"/>
<line x1="766.50" y1="345.50" x2="781.80" y2="348.10" stroke="#333" stroke-width="0.90"/>
<line x1="766.50" y1="348.50" x2="781.80" y2="351.10" stroke="#333" stroke-width="0.90"/>
<path d="M770.2,352.8 L771.2,363.3 L776.6,363.3 L776.6,352.8" stroke="#222" stroke-width="0.90" fill="#fff" />
<line x1="770.50" y1="355.00" x2="776.60" y2="355.60" stroke="#555" stroke-width="0.80"/>
<line x1="770.50" y1="357.50" x2="776.60" y2="358.10" stroke="#555" stroke-width="0.80"/>
<line x1="770.50" y1="360.00" x2="776.60" y2="360.60" stroke="#555" stroke-width="0.80"/>
<ellipse cx="756.10" cy="312.37" rx="14.00" ry="24.50" transform="rotate(35 756.10 312.37)" stroke="#333" stroke-width="0.8" fill="#fff" />
<ellipse cx="755.11" cy="311.68" rx="14.00" ry="24.50" transform="rotate(35 755.11 311.68)" stroke="#333" stroke-width="0.8" fill="#fff" />
<ellipse cx="754.13" cy="310.99" rx="14.00" ry="24.50" transform="rotate(35 754.13 310.99)" stroke="#333" stroke-width="0.8" fill="#fff" />
<ellipse cx="753.06" cy="310.25" rx="14.00" ry="24.50" transform="rotate(35 753.06 310.25)" stroke="#333" stroke-width="0.8" fill="#fff" />
<ellipse cx="752.00" cy="309.50" rx="14.00" ry="24.50" transform="rotate(35 752.00 309.50)" stroke="#222" stroke-width="1.0" fill="#fff" />
<ellipse cx="751.50" cy="309.20" rx="9.30" ry="16.00" transform="rotate(35 751.50 309.20)" stroke="#444" stroke-width="0.8" fill="none" />
<ellipse cx="750.50" cy="308.70" rx="6.00" ry="9.80" transform="rotate(35 750.50 308.70)" stroke="#111" stroke-width="2.0" fill="none" />
<ellipse cx="750.30" cy="308.60" rx="4.00" ry="6.60" transform="rotate(35 750.30 308.60)" stroke="#333" stroke-width="0.8" fill="none" />
<circle cx="738.50" cy="323.00" r="0.80" stroke="#777" stroke-width="0.60" fill="none"/>
<circle cx="761.50" cy="304.00" r="0.80" stroke="#777" stroke-width="0.60" fill="none"/>
<path d="M749.5,304 L733.5,295.8 L729.8,302.6 L746.5,311.5" stroke="#222" stroke-width="0.90" fill="#fff" />
<ellipse cx="731.60" cy="299.20" rx="2.80" ry="3.90" transform="rotate(28 731.60 299.20)" stroke="#222" stroke-width="0.9" fill="#fff" />
<path d="M776.5,633 L797,645.5 L794.5,652 L774,640 Z" stroke="#222" stroke-width="0.90" fill="#fff" />
<line x1="779.00" y1="634.55" x2="776.50" y2="641.05" stroke="#444" stroke-width="0.80"/>
<line x1="781.50" y1="636.10" x2="779.00" y2="642.60" stroke="#444" stroke-width="0.80"/>
<line x1="784.00" y1="637.65" x2="781.50" y2="644.15" stroke="#444" stroke-width="0.80"/>
<line x1="786.50" y1="639.20" x2="784.00" y2="645.70" stroke="#444" stroke-width="0.80"/>
<line x1="789.00" y1="640.75" x2="786.50" y2="647.25" stroke="#444" stroke-width="0.80"/>
<line x1="791.50" y1="642.30" x2="789.00" y2="648.80" stroke="#444" stroke-width="0.80"/>
<line x1="794.00" y1="643.85" x2="791.50" y2="650.35" stroke="#444" stroke-width="0.80"/>
<path d="M750.36,590.42 L775.32,609.69 A15.96,27.93 35 0 1 743.28,655.45 L716.64,638.58 Z" stroke="#222" stroke-width="1.00" fill="#fff" />
<ellipse cx="738.41" cy="617.94" rx="16.80" ry="29.40" transform="rotate(35 738.41 617.94)" stroke="#333" stroke-width="0.8" fill="#fff" />
<ellipse cx="737.19" cy="617.08" rx="16.80" ry="29.40" transform="rotate(35 737.19 617.08)" stroke="#333" stroke-width="0.8" fill="#fff" />
<ellipse cx="736.04" cy="616.28" rx="16.80" ry="29.40" transform="rotate(35 736.04 616.28)" stroke="#333" stroke-width="0.8" fill="#fff" />
<ellipse cx="734.81" cy="615.42" rx="16.80" ry="29.40" transform="rotate(35 734.81 615.42)" stroke="#333" stroke-width="0.8" fill="#fff" />
<ellipse cx="733.50" cy="614.50" rx="16.80" ry="29.40" transform="rotate(35 733.50 614.50)" stroke="#222" stroke-width="1.0" fill="#fff" />
<ellipse cx="733.00" cy="614.20" rx="11.00" ry="19.20" transform="rotate(35 733.00 614.20)" stroke="#444" stroke-width="0.8" fill="none" />
<ellipse cx="732.00" cy="613.60" rx="7.00" ry="11.80" transform="rotate(35 732.00 613.60)" stroke="#111" stroke-width="2.2" fill="none" />
<ellipse cx="731.80" cy="613.40" rx="4.70" ry="7.90" transform="rotate(35 731.80 613.40)" stroke="#333" stroke-width="0.8" fill="none" />
<circle cx="716.50" cy="630.00" r="0.90" stroke="#777" stroke-width="0.60" fill="none"/>
<circle cx="742.50" cy="609.50" r="0.90" stroke="#777" stroke-width="0.60" fill="none"/>
<path d="M729.5,607.5 L712,596 L707.5,603.6 L726,615.5" stroke="#222" stroke-width="0.90" fill="#fff" />
<ellipse cx="709.70" cy="599.80" rx="3.20" ry="4.50" transform="rotate(28 709.70 599.80)" stroke="#222" stroke-width="0.9" fill="#fff" />
<path d="M752.5,956 L748,950.5 Q745.5,941.5 749.5,939.5 L757.5,941.5 Q761,943 759.8,948.5 L757.5,956 Z" stroke="#222" stroke-width="0.90" fill="#fff" />
<line x1="750.50" y1="943.80" x2="757.50" y2="945.80" stroke="#666" stroke-width="0.90"/>
<line x1="749.20" y1="948.30" x2="756.20" y2="950.30" stroke="#666" stroke-width="0.90"/>
<path d="M723,992 L715.5,1002 Q713,1007.5 717,1008.8 L723.5,1010 Q727,1009.5 727.5,1004.5 L728.5,998 Z" stroke="#222" stroke-width="0.90" fill="#fff" />
<line x1="716.80" y1="1003.50" x2="724.50" y2="1005.30" stroke="#666" stroke-width="0.90"/>
<line x1="718.20" y1="998.80" x2="726.00" y2="1000.60" stroke="#666" stroke-width="0.90"/>
<path d="M754.6,1008.4 L772.6,1012.9 L768.1,1023 L758,1023 Z" stroke="#222" stroke-width="0.90" fill="#fff" />
<path d="M757.50,954.62 L783.33,971.09 A14.25,25.65 30 0 1 757.68,1015.51 L730.50,1001.38 Z" stroke="#222" stroke-width="1.00" fill="#fff" />
<path d="M758,1004 L766.4,998.2 L780.5,1006.1 L772.6,1011.8 Z" stroke="#222" stroke-width="0.90" fill="#fff" />
<path d="M754.6,1008.4 L772.6,1012.9 L770.5,1017.5 L768.1,1023 L758,1023 L755.5,1016 Z" stroke="#222" stroke-width="0.90" fill="#fff" />
<line x1="755.30" y1="1011.00" x2="771.50" y2="1013.50" stroke="#333" stroke-width="0.90"/>
<line x1="755.30" y1="1014.00" x2="771.50" y2="1016.50" stroke="#333" stroke-width="0.90"/>
<line x1="755.30" y1="1017.00" x2="771.50" y2="1019.50" stroke="#333" stroke-width="0.90"/>
<line x1="755.30" y1="1020.00" x2="771.50" y2="1022.50" stroke="#333" stroke-width="0.90"/>
<path d="M760.2,1023.5 L760.2,1031.5 L767,1031.5 L767,1023.5" stroke="#222" stroke-width="0.90" fill="#fff" />
<ellipse cx="746.77" cy="979.60" rx="15.00" ry="27.00" transform="rotate(30 746.77 979.60)" stroke="#333" stroke-width="0.8" fill="#fff" />
<ellipse cx="745.39" cy="978.80" rx="15.00" ry="27.00" transform="rotate(30 745.39 978.80)" stroke="#333" stroke-width="0.8" fill="#fff" />
<ellipse cx="744.00" cy="978.00" rx="15.00" ry="27.00" transform="rotate(30 744.00 978.00)" stroke="#222" stroke-width="1.0" fill="#fff" />
<ellipse cx="742.50" cy="978.50" rx="10.60" ry="17.50" transform="rotate(30 742.50 978.50)" stroke="#333" stroke-width="1.0" fill="none" />
<ellipse cx="741.00" cy="976.50" rx="6.60" ry="10.50" transform="rotate(30 741.00 976.50)" stroke="#222" stroke-width="0.9" fill="none" />
<ellipse cx="740.80" cy="976.30" rx="5.20" ry="8.20" transform="rotate(30 740.80 976.30)" stroke="#111" stroke-width="1.8" fill="none" />
<ellipse cx="740.50" cy="976.00" rx="3.60" ry="5.60" transform="rotate(30 740.50 976.00)" stroke="#222" stroke-width="0.9" fill="none" />
<ellipse cx="740.30" cy="975.80" rx="2.20" ry="3.40" transform="rotate(30 740.30 975.80)" stroke="#222" stroke-width="1.2" fill="none" />
<circle cx="741.00" cy="993.50" r="1.10" stroke="#333" stroke-width="0.80" fill="#333"/>
<path d="M752.5,954 Q757,962 756.5,974 L759,973 Q759.5,961 757.5,953" stroke="#222" stroke-width="0.90" fill="#fff" />
<path d="M726,984 Q724.5,994 727.5,1004 L729.5,1003 Q727,994 728.5,985" stroke="#222" stroke-width="0.90" fill="#fff" />
</svg>
</body></html>
